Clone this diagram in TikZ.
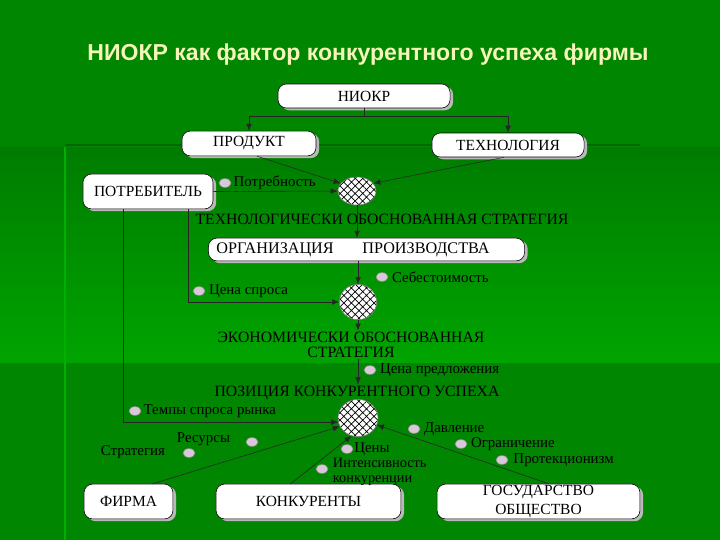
\documentclass[tikz,border=0pt]{standalone}
\usepackage{fontspec}
\setmainfont{Liberation Serif}
\newfontfamily\titlefont{Liberation Sans}
\usetikzlibrary{arrows.meta,shapes.geometric,shadows,patterns.meta,positioning}
\definecolor{bggreen}{RGB}{0,134,0}
\definecolor{panelA}{RGB}{0,124,0}
\definecolor{panelB}{RGB}{0,164,0}
\definecolor{lineA}{RGB}{0,104,0}
\definecolor{lineB}{RGB}{0,176,0}
\definecolor{titleyellow}{RGB}{245,245,185}
\definecolor{beadgray}{RGB}{216,200,216}

\begin{document}
\begin{tikzpicture}[x=0.025cm,y=-0.025cm,
  box/.style={draw=black,fill=white,rounded corners=6pt,inner sep=1pt,
    font=\fontsize{11}{11}\selectfont,
    drop shadow={shadow xshift=2.2pt,shadow yshift=-1.6pt,fill=gray!55,opacity=1}},
  hub/.style={ellipse,draw=black!50,inner sep=0pt,preaction={fill=white},
    pattern={Hatch[angle=45,distance=3.8pt,line width=0.5pt]},pattern color=black},
  bead/.style={ellipse,draw=black!45,fill=beadgray,minimum width=0.3cm,minimum height=0.22cm,inner sep=0pt},
  lbl/.style={font=\fontsize{10.6}{11}\selectfont,inner sep=0.5pt},
  caps/.style={font=\fontsize{11.2}{10.6}\selectfont,inner sep=1pt},
  link/.style={draw=black!85,-{Latex[length=5pt,width=4pt]}}]
% background
\fill[bggreen] (0,0) rectangle (720,540);
\shade[top color=panelA,bottom color=panelB] (0,147) rectangle (720,362);
\draw[lineA,line width=2pt] (65,145) -- (640,145);
\draw[lineB,line width=1.5pt] (65,147) -- (65,540);
\useasboundingbox (0,0) rectangle (720,540);
\node[font=\titlefont\bfseries\fontsize{16.4}{18}\selectfont,text=titleyellow] (title) at (368,55) {НИОКР как фактор конкурентного успеха фирмы};
% boxes
\node[box,minimum width=4.3cm,minimum height=0.6cm] (niokr) at (364,96) {НИОКР};
\node[box,minimum width=3.35cm,minimum height=0.62cm] (prod) at (249,143.5) {ПРОДУКТ};
\node[box,minimum width=3.8cm,minimum height=0.6cm] (tech) at (508,145) {ТЕХНОЛОГИЯ};
\node[box,minimum width=3.25cm,minimum height=0.87cm] (potr) at (148,191.5) {ПОТРЕБИТЕЛЬ};
\node[box,minimum height=0.57cm,text width=7.5cm,inner xsep=0.2cm,align=left,font=\fontsize{11.5}{12}\selectfont] (org) at (366.5,249.5) {ОРГАНИЗАЦИЯ\hspace{0.72cm}ПРОИЗВОДСТВА};
\node[box,minimum width=2.22cm,minimum height=0.87cm] (firm) at (128.5,501.5) {ФИРМА};
\node[box,minimum width=4.62cm,minimum height=0.87cm] (konk) at (308.5,501.5) {КОНКУРЕНТЫ};
\node[box,minimum width=5.07cm,minimum height=0.87cm,align=center] (gos) at (538.5,501.5) {ГОСУДАРСТВО\\[2pt]ОБЩЕСТВО};
% hatched hubs
\node[hub,minimum width=0.95cm,minimum height=0.7cm] (hubA) at (357,191) {};
\node[hub,minimum width=0.93cm,minimum height=0.88cm] (hubB) at (358,302) {};
\node[hub,minimum width=1cm,minimum height=0.93cm] (hubC) at (358,418) {};
% captions
\node[caps] (techstrat) at (382,219) {ТЕХНОЛОГИЧЕСКИ ОБОСНОВАННАЯ СТРАТЕГИЯ};
\node[caps,align=center] (ecostrat) at (351,345) {ЭКОНОМИЧЕСКИ ОБОСНОВАННАЯ\\СТРАТЕГИЯ};
\node[caps] (pos) at (357,393) {ПОЗИЦИЯ КОНКУРЕНТНОГО УСПЕХА};
% factors
\node[bead] (bNeed) at (225,183) {};
\node[lbl,right=1pt of bNeed] (need) {Потребность};
\node[bead] (bCost) at (382,277) {};
\node[lbl,right=2pt of bCost] (cost) {Себестоимость};
\node[bead] (bDem) at (199,291) {};
\node[lbl,right=2pt of bDem] (dem) {Цена спроса};
\node[bead] (bSup) at (370,370) {};
\node[lbl,right=2pt of bSup] (sup) {Цена предложения};
\node[bead] (bRate) at (135,411) {};
\node[lbl,right=1pt of bRate] (rate) {Темпы спроса рынка};
\node[bead] (bRes) at (252,442) {};
\node[lbl,anchor=east] (res) at (231,439) {Ресурсы};
\node[bead] (bStr) at (189,453) {};
\node[lbl,anchor=east] (str) at (166,452) {Стратегия};
\node[bead] (bPrice) at (347,449) {};
\node[lbl,right=0pt of bPrice] (price) {Цены};
\node[bead] (bInt) at (322,469) {};
\node[lbl,anchor=west,align=left,font=\fontsize{10.2}{10.4}\selectfont] (int) at (332,472) {Интенсивность\\конкуренции};
\node[bead] (bPress) at (414,429) {};
\node[lbl,right=2pt of bPress] (press) {Давление};
\node[bead] (bLim) at (461,444) {};
\node[lbl,right=2pt of bLim] (lim) {Ограничение};
\node[bead] (bProt) at (502,460) {};
\node[lbl,right=3pt of bProt] (prot) {Протекционизм};
% connectors
\coordinate (fork) at (364,116);
\draw[black!85] (niokr.south) -- (fork);
\draw[link] (fork) -| (prod.north);
\draw[link] (fork) -| (tech.north);
\draw[link] ([xshift=0.2cm]prod.south) -- (hubA.155);
\draw[link] ([xshift=-0.1cm]tech.south) -- (hubA.25);
\draw[link] (potr.east) -- (hubA.west);
\draw[link] (hubA.south) -- (hubA.south |- org.north);
\draw[link] (org.south -| hubB.north) -- (hubB.north);
\draw[link] (hubB.south) -- (hubB.south |- ecostrat.north);
\draw[link] (ecostrat.south -| hubB.south) -- (hubB.south |- pos.north);
\draw[link] ([xshift=1cm]potr.south) |- (hubB.west);
\draw[link] ([xshift=-0.625cm]potr.south) |- (hubC.192);
\draw[link] ([xshift=0.6cm]firm.north) -- (hubC.205);
\draw[link] ([xshift=-0.45cm]konk.north) -- (hubC.250);
\draw[link] ([xshift=0.26cm]gos.north) -- (hubC.340);
\end{tikzpicture}
\end{document}
